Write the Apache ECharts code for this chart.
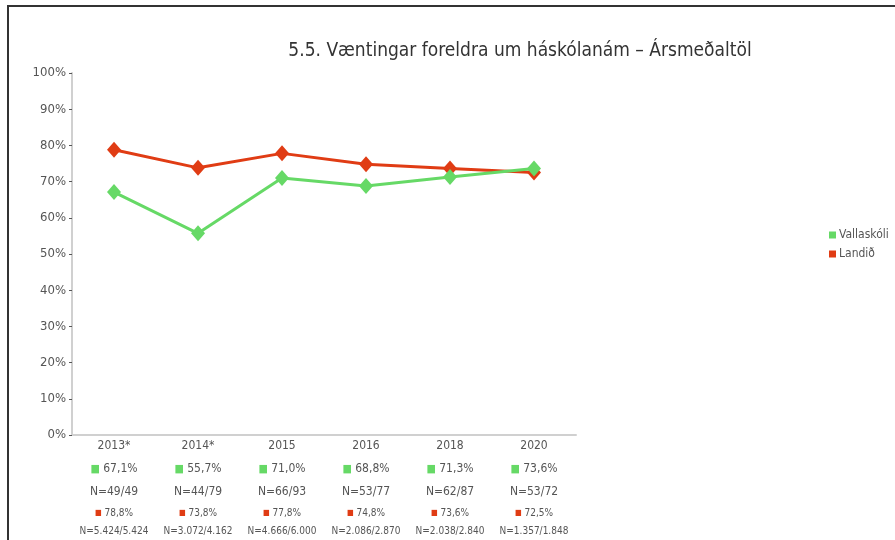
<!DOCTYPE html>
<html>
<head>
<meta charset="utf-8">
<script src="https://cdn.jsdelivr.net/npm/echarts@6/dist/echarts.min.js"></script>
<style>
  html, body { margin: 0; padding: 0; background: #fff; }
  #main { width: 895px; height: 540px; }
</style>
</head>
<body>
<div id="main"></div>
<script>
// gögn
var years = ['2013*', '2014*', '2015', '2016', '2018', '2020'];
var vallaskoli = [67.1, 55.7, 71.0, 68.8, 71.3, 73.6];
var landid = [78.8, 73.8, 77.8, 74.8, 73.6, 72.5];
var vallaskoliN = ['49/49', '44/79', '66/93', '53/77', '62/87', '53/72'];
var landidN = ['5.424/5.424', '3.072/4.162', '4.666/6.000', '2.086/2.870', '2.038/2.840', '1.357/1.848'];
var yTicks = [0, 10, 20, 30, 40, 50, 60, 70, 80, 90, 100];

var green = '#66d966';
var red = '#e03c14';
var font = '"Liberation Sans Narrow", "DejaVu Sans Condensed", sans-serif';

function pct(v) {
  return v.toFixed(1).replace('.', ',') + '%';
}

var chart = echarts.init(document.getElementById('main'));
var option = {
  backgroundColor: '#fff',
  textStyle: { fontFamily: font },
  title: {
    text: '5.5. Væntingar foreldra um háskólanám – Ársmeðaltöl',
    left: 515,
    top: 37,
    textAlign: 'center',
    textStyle: { fontFamily: font, fontSize: 19, fontWeight: 'normal', color: '#333' }
  },
  graphic: [{
    type: 'rect',
    shape: { x: 8, y: 6, width: 1000, height: 600 },
    style: { fill: 'none', stroke: '#333', lineWidth: 2 },
    silent: true
  }],
  legend: {
    orient: 'vertical',
    left: 824,
    top: 224,
    itemWidth: 7,
    itemHeight: 7,
    itemGap: 7,
    icon: 'rect',
    textStyle: { fontFamily: font, fontSize: 12, color: '#555', padding: [0, 0, 0, -2] },
    data: ['Vallaskóli', 'Landið']
  },
  grid: { left: 72, right: 319, top: 73, bottom: 105 },
  xAxis: {
    type: 'category',
    data: years,
    axisLine: { lineStyle: { color: '#d0d0d0', width: 2 } },
    axisTick: { show: false },
    axisLabel: {
      margin: 0,
      interval: 0,
      formatter: function (val, i) {
        return '{y|' + val + '}\n' +
          '{gs|■}{g| ' + pct(vallaskoli[i]) + '}\n' +
          '{n|N=' + vallaskoliN[i] + '}\n' +
          '{rs|■}{r| ' + pct(landid[i]) + '}\n' +
          '{sn|N=' + landidN[i] + '}';
      },
      rich: {
        y: { fontFamily: font, fontSize: 12, color: '#555', lineHeight: 22 },
        gs: { fontSize: 11, color: green, lineHeight: 24 },
        g: { fontFamily: font, fontSize: 12, color: '#555', lineHeight: 24 },
        n: { fontFamily: font, fontSize: 12, color: '#555', lineHeight: 22 },
        rs: { fontSize: 8, color: red, lineHeight: 20 },
        r: { fontFamily: font, fontSize: 10, color: '#555', lineHeight: 20 },
        sn: { fontFamily: font, fontSize: 10, color: '#555', lineHeight: 16 }
      }
    }
  },
  yAxis: {
    type: 'value',
    min: 0,
    max: 100,
    interval: 10,
    axisLine: { show: true, lineStyle: { color: '#d0d0d0', width: 2 } },
    axisTick: { show: true, length: 3, lineStyle: { color: '#555', width: 1 } },
    splitLine: { show: false },
    axisLabel: {
      margin: 6,
      fontFamily: font,
      fontSize: 13,
      color: '#555',
      formatter: function (v) {
        return yTicks.indexOf(v) >= 0 ? v + '%' : '';
      }
    }
  },
  series: [
    {
      name: 'Vallaskóli',
      type: 'line',
      data: vallaskoli,
      symbol: 'diamond',
      symbolSize: [14, 16],
      color: green,
      lineStyle: { width: 3, color: green },
      itemStyle: { color: green },
      z: 3
    },
    {
      name: 'Landið',
      type: 'line',
      data: landid,
      symbol: 'diamond',
      symbolSize: [14, 16],
      color: red,
      lineStyle: { width: 3, color: red },
      itemStyle: { color: red },
      z: 2
    }
  ]
};
chart.setOption(option);
</script>
</body>
</html>
